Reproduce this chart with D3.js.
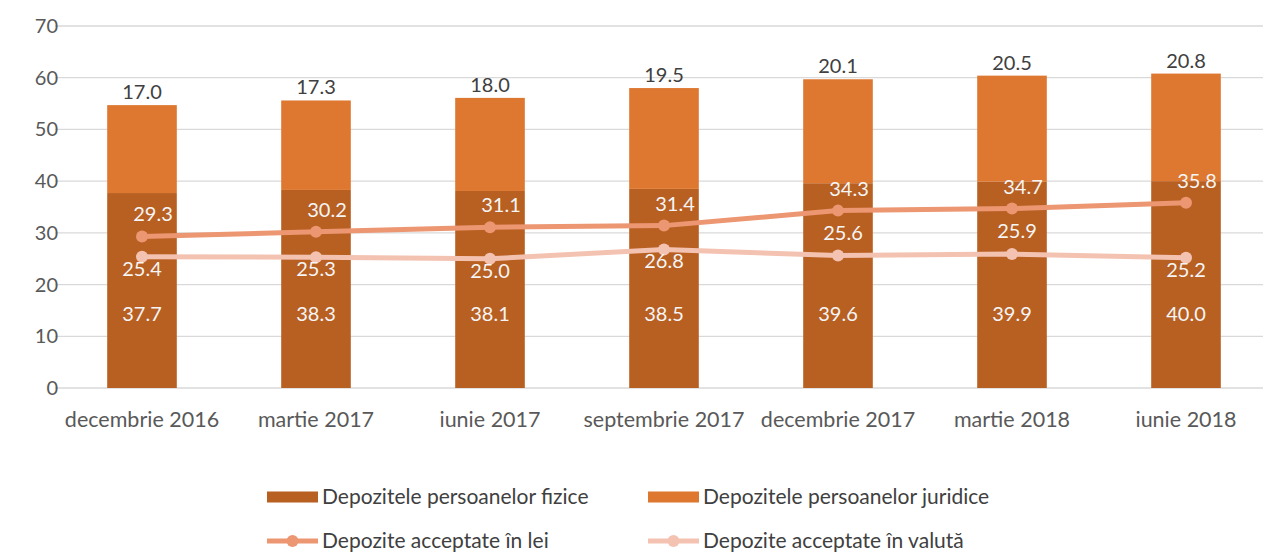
<!DOCTYPE html>
<html><head><meta charset="utf-8">
<script src="https://cdn.jsdelivr.net/npm/d3@7"></script>
<style>body{margin:0;background:#fff;} svg{display:block;font-family:Lato,"Open Sans",sans-serif;}</style>
</head><body>
<svg id="c" width="1263" height="552"></svg>
<script>
const categories = ["decembrie 2016","martie 2017","iunie 2017","septembrie 2017","decembrie 2017","martie 2018","iunie 2018"];
const fizice = [37.7,38.3,38.1,38.5,39.6,39.9,40.0];
const juridice = [17.0,17.3,18.0,19.5,20.1,20.5,20.8];
const lei = [29.3,30.2,31.1,31.4,34.3,34.7,35.8];
const valuta = [25.4,25.3,25.0,26.8,25.6,25.9,25.2];
const valutaAbove = [false,false,false,false,true,true,false];
const yTicks = [0,10,20,30,40,50,60,70];

const colFiz = "#b85f22", colJur = "#de772f", colLei = "#ec9672", colVal = "#f4c2b1";
const svg = d3.select("#c");
const x = d3.scaleBand().domain(categories).range([55,1273]).paddingInner(0.6).paddingOuter(0.3);
const y = d3.scaleLinear().domain([0,70]).range([388,26]);
const cx = c => x(c) + x.bandwidth()/2;

// grid
svg.append("g").selectAll("line").data(yTicks).join("line")
  .attr("x1",55).attr("x2",1263).attr("y1",d=>y(d)).attr("y2",d=>y(d))
  .attr("stroke","#d9d9d9").attr("stroke-width",1.3);
svg.append("g").selectAll("text").data(yTicks).join("text")
  .attr("x",58).attr("y",d=>y(d)).attr("dy","0.35em").attr("text-anchor","end")
  .attr("font-size",20).attr("fill","#595959").text(d=>d);

// bars
const data = categories.map((c,i)=>({c,f:fizice[i],j:juridice[i],l:lei[i],v:valuta[i],va:valutaAbove[i]}));
svg.append("g").selectAll("rect").data(data).join("rect")
  .attr("x",d=>x(d.c)).attr("width",x.bandwidth())
  .attr("y",d=>y(d.f)).attr("height",d=>y(0)-y(d.f)).attr("fill",colFiz);
svg.append("g").selectAll("rect").data(data).join("rect")
  .attr("x",d=>x(d.c)).attr("width",x.bandwidth())
  .attr("y",d=>y(d.f+d.j)).attr("height",d=>y(d.f)-y(d.f+d.j)).attr("fill",colJur);

// x labels
svg.append("g").selectAll("text").data(categories).join("text")
  .attr("x",d=>cx(d)).attr("y",427).attr("text-anchor","middle")
  .attr("font-size",21.5).attr("fill","#595959").text(d=>d);

// lines
const lineGen = key => d3.line().x(d=>cx(d.c)).y(d=>y(d[key]));
svg.append("path").datum(data).attr("d",lineGen("l")).attr("fill","none").attr("stroke",colLei).attr("stroke-width",5);
svg.append("path").datum(data).attr("d",lineGen("v")).attr("fill","none").attr("stroke",colVal).attr("stroke-width",5);
svg.append("g").selectAll("circle").data(data).join("circle").attr("cx",d=>cx(d.c)).attr("cy",d=>y(d.l)).attr("r",6).attr("fill",colLei);
svg.append("g").selectAll("circle").data(data).join("circle").attr("cx",d=>cx(d.c)).attr("cy",d=>y(d.v)).attr("r",6).attr("fill",colVal);

// labels
const lbl = svg.append("g").attr("font-size",20).attr("text-anchor","middle");
lbl.selectAll(".tot").data(data).join("text").attr("class","tot")
  .attr("x",d=>cx(d.c)).attr("y",d=>y(d.f+d.j)-6).attr("fill","#404040").text(d=>d.j.toFixed(1));
lbl.selectAll(".fz").data(data).join("text").attr("class","fz")
  .attr("x",d=>cx(d.c)).attr("y",d=>y(14.3)).attr("dy","0.35em").attr("fill","#f5f5f5").text(d=>d.f.toFixed(1));
lbl.selectAll(".le").data(data).join("text").attr("class","le")
  .attr("x",d=>cx(d.c)+11).attr("y",d=>y(d.l)-22).attr("dy","0.35em").attr("fill","#f5f5f5").text(d=>d.l.toFixed(1));
lbl.selectAll(".va").data(data).join("text").attr("class","va")
  .attr("x",d=>cx(d.c)+(d.va?5:0)).attr("y",d=>y(d.v)+(d.va?-23:12)).attr("dy","0.35em").attr("fill","#f5f5f5").text(d=>d.v.toFixed(1));

// legend
const leg = svg.append("g").attr("font-size",21);
const items = [
 {t:"Depozitele persoanelor fizice",type:"bar",c:colFiz,x:267,y:497},
 {t:"Depozitele persoanelor juridice",type:"bar",c:colJur,x:648,y:497},
 {t:"Depozite acceptate în lei",type:"line",c:colLei,x:267,y:541},
 {t:"Depozite acceptate în valută",type:"line",c:colVal,x:648,y:541}];
items.forEach(it=>{
  const g = leg.append("g").attr("transform",`translate(${it.x},${it.y})`);
  if(it.type==="bar") g.append("rect").attr("x",0).attr("y",-5.5).attr("width",51).attr("height",11).attr("fill",it.c);
  else { g.append("line").attr("x1",0).attr("x2",51).attr("stroke",it.c).attr("stroke-width",5);
         g.append("circle").attr("cx",25.5).attr("r",6).attr("fill",it.c); }
  g.append("text").attr("x",55).attr("dy","0.35em").attr("fill","#404040").text(it.t);
});
</script>
</body></html>
